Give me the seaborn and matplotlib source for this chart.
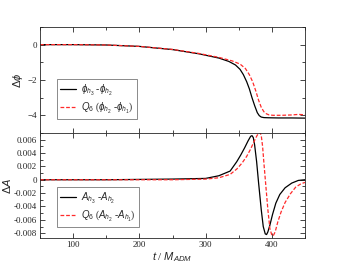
import numpy as np
import pandas as pd
import matplotlib
matplotlib.use("Agg")
import matplotlib.pyplot as plt
import seaborn as sns
from matplotlib.ticker import MultipleLocator

# phase difference (top panel)
t_phi_black = [50, 100, 150, 200, 250, 290, 320, 335, 345, 352, 357, 362, 366, 370, 374, 378, 381, 384, 388, 395, 410, 430, 450]
phi_black = [0, 0, -0.02, -0.1, -0.28, -0.52, -0.76, -0.95, -1.15, -1.4, -1.7, -2.1, -2.5, -3.0, -3.45, -3.85, -4.02, -4.1, -4.13, -4.14, -4.15, -4.15, -4.16]
t_phi_red = [50, 100, 150, 200, 250, 290, 320, 340, 352, 360, 366, 371, 376, 380, 384, 388, 392, 396, 402, 415, 430, 440, 450]
phi_red = [0, 0, -0.02, -0.1, -0.27, -0.5, -0.72, -0.92, -1.1, -1.35, -1.7, -2.1, -2.65, -3.15, -3.55, -3.8, -3.92, -3.98, -4.0, -4.0, -3.98, -3.95, -3.97]

# amplitude difference (bottom panel)
t_amp_black = [50, 150, 250, 300, 320, 337, 347, 353, 359, 364, 368, 370, 372, 374, 377, 380, 384, 387, 390, 392, 394, 397, 401, 406, 412, 420, 430, 440, 450]
amp_black = [0, 0, 0.0001, 0.0002, 0.0006, 0.0013, 0.0027, 0.0037, 0.0048, 0.0058, 0.0065, 0.0066, 0.0063, 0.0052, 0.0027, -0.0005, -0.0045, -0.0070, -0.0081, -0.0082, -0.0078, -0.0068, -0.0052, -0.0035, -0.0022, -0.0012, -0.0005, -0.0001, 0]
t_amp_red = [50, 250, 300, 320, 337, 347, 355, 362, 368, 372, 377, 380, 382, 384, 386, 388, 391, 394, 397, 400, 402, 405, 409, 414, 420, 428, 436, 444, 450]
amp_red = [0, 0, 0.0001, 0.0003, 0.0008, 0.0016, 0.0025, 0.0035, 0.0046, 0.0055, 0.0065, 0.0070, 0.0071, 0.0066, 0.0050, 0.0025, -0.0010, -0.0045, -0.0073, -0.0083, -0.0084, -0.0078, -0.0063, -0.0048, -0.0034, -0.0021, -0.0011, -0.0006, -0.0004]

lab_phi_black = r'$\phi_{h_3}$ -$\phi_{h_2}$'
lab_phi_red = r'$Q_6$ ($\phi_{h_2}$ -$\phi_{h_1}$)'
lab_amp_black = r'$A_{h_3}$ -$A_{h_2}$'
lab_amp_red = r'$Q_6$ ($A_{h_2}$ -$A_{h_1}$)'

sns.set_style("ticks")
plt.rcParams['font.family'] = ['Liberation Serif', 'DejaVu Serif']
plt.rcParams['mathtext.fontset'] = 'custom'
plt.rcParams['mathtext.rm'] = 'Liberation Sans'
plt.rcParams['mathtext.it'] = 'Liberation Sans:italic'
plt.rcParams['mathtext.fallback'] = 'cm'

fig = plt.figure(figsize=(3.45, 2.67), dpi=100)
ax1 = fig.add_axes([0.116, 0.502, 0.768, 0.397])
ax2 = fig.add_axes([0.116, 0.109, 0.768, 0.393], sharex=ax1)

df_phi = pd.concat([
    pd.DataFrame({'t': t_phi_black, 'v': phi_black, 's': lab_phi_black}),
    pd.DataFrame({'t': t_phi_red, 'v': phi_red, 's': lab_phi_red}),
])
df_amp = pd.concat([
    pd.DataFrame({'t': t_amp_black, 'v': amp_black, 's': lab_amp_black}),
    pd.DataFrame({'t': t_amp_red, 'v': amp_red, 's': lab_amp_red}),
])

for ax, df in [(ax1, df_phi), (ax2, df_amp)]:
    labs = df['s'].unique()
    sns.lineplot(data=df, x='t', y='v', hue='s', style='s',
                 palette={labs[0]: 'black', labs[1]: '#ff2a2a'},
                 dashes={labs[0]: '', labs[1]: (3, 1.5)},
                 linewidth=0.9, sort=False, estimator=None, ax=ax)

ax1.set_xlim(50, 450)
ax1.set_ylim(-5, 1)
ax2.set_ylim(-0.0087, 0.007)
ax1.yaxis.set_major_locator(MultipleLocator(2))
ax1.yaxis.set_minor_locator(MultipleLocator(1))
ax2.yaxis.set_major_locator(MultipleLocator(0.002))
ax2.yaxis.set_minor_locator(MultipleLocator(0.001))
ax1.xaxis.set_major_locator(MultipleLocator(100))
ax1.xaxis.set_minor_locator(MultipleLocator(50))
ax2.yaxis.set_major_formatter(matplotlib.ticker.FuncFormatter(lambda v, p: '0' if abs(v) < 1e-9 else f'{v:.3f}'))

for ax in (ax1, ax2):
    ax.tick_params(which='both', direction='in', top=True, right=True, labelsize=6.5, pad=2)
    ax.tick_params(which='major', length=3.5, width=0.6)
    ax.tick_params(which='minor', length=2, width=0.6)
    for sp in ax.spines.values():
        sp.set_linewidth(0.6)
    ax.set_xlabel('')
ax1.tick_params(labelbottom=False)

ax1.set_ylabel(r'$\Delta\phi$', fontsize=8, labelpad=2)
ax2.set_ylabel(r'$\Delta A$', fontsize=8, labelpad=1)
ax2.set_xlabel(r'$t$ / $M_{ADM}$', fontsize=8, labelpad=1)

for ax, y0 in [(ax1, 0.085), (ax2, 0.055)]:
    leg = ax.legend(loc='lower left', bbox_to_anchor=(0.045, y0), fontsize=7,
                    frameon=True, fancybox=False, handlelength=1.6,
                    handletextpad=0.5, borderpad=0.35, labelspacing=0.3, title=None)
    leg.get_frame().set_edgecolor('#555555')
    leg.get_frame().set_linewidth(0.6)

fig.savefig('out.png', dpi=100)
